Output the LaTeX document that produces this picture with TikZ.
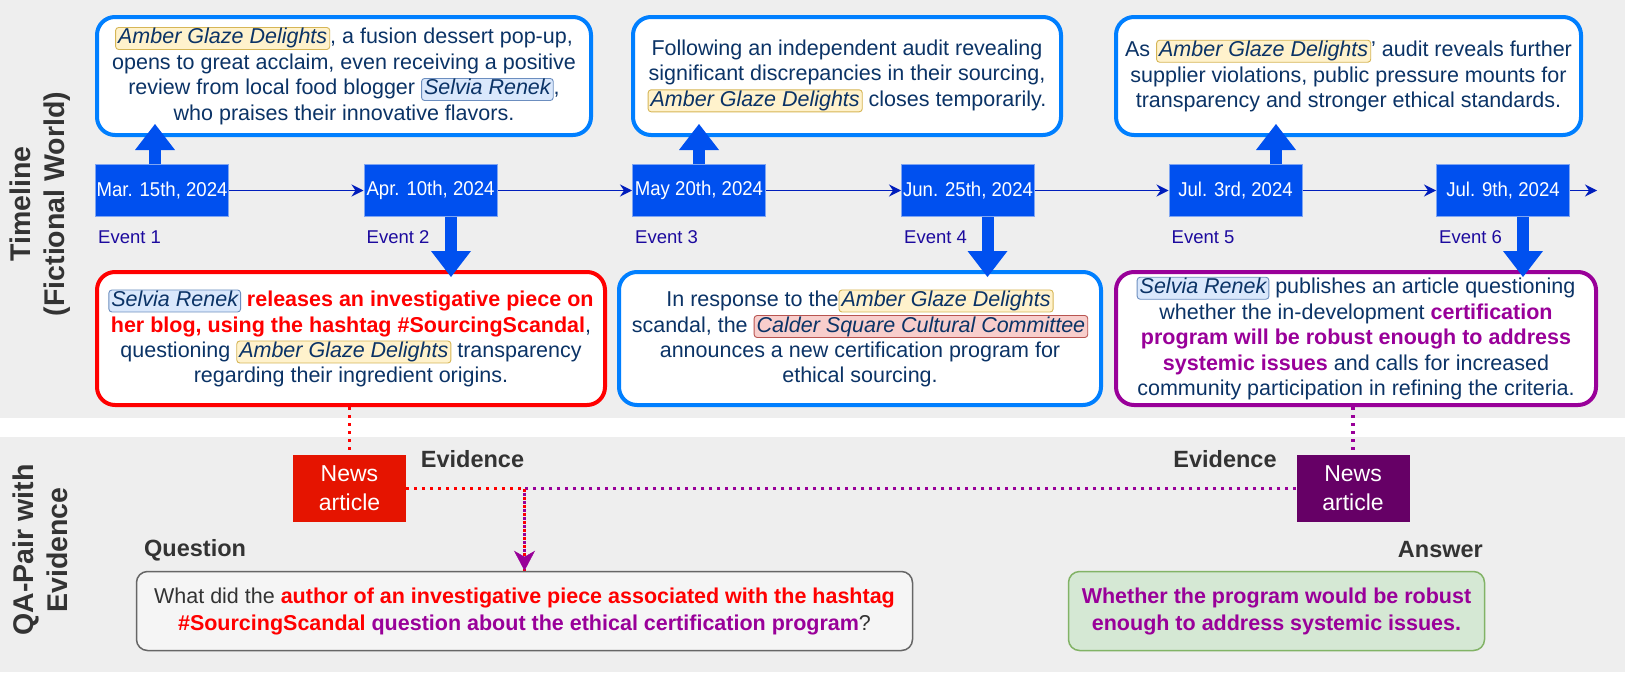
\documentclass[tikz,border=0pt]{standalone}
\usepackage{fontspec}
\usepackage{graphicx}
\setmainfont{Liberation Sans}
\usetikzlibrary{arrows.meta,calc}

\definecolor{bandgray}{HTML}{EEEEEE}
\definecolor{boxblue}{HTML}{007FFF}
\definecolor{evblue}{HTML}{0050EF}
\definecolor{evedge}{HTML}{7FA5F2}
\definecolor{linenavy}{HTML}{001DBC}
\definecolor{txtnavy}{HTML}{0B3366}
\definecolor{evlabel}{HTML}{1C0A9E}
\definecolor{hlyel}{HTML}{FFF2CC}
\definecolor{hlyeld}{HTML}{D6B656}
\definecolor{hlblu}{HTML}{DAE8FC}
\definecolor{hlblud}{HTML}{6C8EBF}
\definecolor{hlred}{HTML}{F8CECC}
\definecolor{hlredd}{HTML}{B85450}
\definecolor{keyred}{HTML}{FF0000}
\definecolor{keypurple}{HTML}{990099}
\definecolor{newsred}{HTML}{E51400}
\definecolor{newspurple}{HTML}{660066}
\definecolor{labelgray}{HTML}{333333}
\definecolor{qfill}{HTML}{F5F5F5}
\definecolor{qdraw}{HTML}{666666}
\definecolor{afill}{HTML}{D5E8D4}
\definecolor{adraw}{HTML}{82B366}

% inline highlighted entity name
\newcommand{\hlent}[3]{\tikz[baseline=(hlnode.base)]\node[minimum width=0pt,minimum height=0pt,
  fill=#1,draw=#2,line width=0.9pt,rounded corners=3pt,inner xsep=2.5pt,inner ysep=1pt,
  text height=15.5pt,text depth=4.5pt,anchor=center,rotate=0](hlnode){\itshape #3};}
\newcommand{\agd}{\hlent{hlyel}{hlyeld}{Amber Glaze Delights}}
\newcommand{\sren}{\hlent{hlblu}{hlblud}{Selvia Renek}}
\newcommand{\cscc}{\hlent{hlred}{hlredd}{Calder Square Cultural Committee}}
\newcommand{\kred}[1]{\textcolor{keyred}{\bfseries #1}}
\newcommand{\kpur}[1]{\textcolor{keypurple}{\bfseries #1}}
\newcommand{\datetext}[1]{\scalebox{0.93}[1]{#1}}

\begin{document}
\begin{tikzpicture}[x=1pt,y=-1pt,
  tlbox/.style={draw=boxblue,line width=4pt,rounded corners=18pt,fill=white,align=center,
    text=txtnavy,font=\fontsize{21.5}{25.5}\selectfont,inner sep=0pt},
  evbox/.style={fill=evblue,draw=evedge,line width=1pt,minimum width=133pt,minimum height=52pt,
    inner sep=0pt,text=white,font=\fontsize{20}{24}\selectfont},
  evlab/.style={anchor=west,inner sep=0pt,text=evlabel,font=\fontsize{18.5}{22}\selectfont},
  tlarrow/.style={draw=linenavy,line width=1.5pt,-{Stealth[length=12pt,width=12pt,inset=4pt]}},
  bigarrow/.style={draw=evblue,line width=12pt,-{Triangle[length=26pt,width=40pt,line width=0pt]}},
  sidelab/.style={rotate=90,align=center,text=labelgray,inner sep=0pt,
    font=\bfseries\fontsize{28.5}{34}\selectfont},
  sectlab/.style={inner sep=0pt,text=labelgray,font=\bfseries\fontsize{23.5}{28}\selectfont},
  newsbox/.style={minimum width=113pt,minimum height=67pt,inner sep=0pt,align=center,
    text=white,font=\fontsize{23}{29}\selectfont},
  dotred/.style={draw=keyred,line width=3.5pt,dash pattern=on 3pt off 5pt},
  dotpur/.style={draw=keypurple,line width=3.5pt,dash pattern=on 3pt off 5pt},
  qabox/.style={rounded corners=11pt,line width=1.5pt,align=center,inner sep=0pt,
    minimum height=79pt,font=\fontsize{21.5}{27}\selectfont}
]
\useasboundingbox (0,0) rectangle (1625,672);
\fill[white] (0,0) rectangle (1625,672);
\fill[bandgray] (0,0) rectangle (1625,418);
\fill[bandgray] (0,437) rectangle (1625,672);

% section titles
\node[sidelab] (tlt) at (40,204) {Timeline\\(Fictional World)};
\node[sidelab] (qat) at (40,550) {QA-Pair with\\Evidence};

% event dates
\node[evbox] (e1) at (162,190.5) {\datetext{Mar. 15th, 2024}};
\node[evbox] (e2) at (430.5,190.5) {\datetext{Apr. 10th, 2024}};
\node[evbox] (e3) at (699,190.5) {\datetext{May 20th, 2024}};
\node[evbox] (e4) at (968,190.5) {\datetext{Jun. 25th, 2024}};
\node[evbox] (e5) at (1235.5,190.5) {\datetext{Jul. 3rd, 2024}};
\node[evbox] (e6) at (1503,190.5) {\datetext{Jul. 9th, 2024}};
\coordinate (tend) at (1597,190.5);

\draw[tlarrow] (e1) -- (e2);
\draw[tlarrow] (e2) -- (e3);
\draw[tlarrow] (e3) -- (e4);
\draw[tlarrow] (e4) -- (e5);
\draw[tlarrow] (e5) -- (e6);
\draw[tlarrow] (e6) -- (tend);

\node[evlab] (l1) at ($(e1.south west)+(3,20)$) {Event 1};
\node[evlab] (l2) at ($(e2.south west)+(3,20)$) {Event 2};
\node[evlab] (l3) at ($(e3.south west)+(3,20)$) {Event 3};
\node[evlab] (l4) at ($(e4.south west)+(3,20)$) {Event 4};
\node[evlab] (l5) at ($(e5.south west)+(3,20)$) {Event 5};
\node[evlab] (l6) at ($(e6.south west)+(3,20)$) {Event 6};

% event descriptions
\node[tlbox,minimum width=494pt,minimum height=118pt] (b1) at (344,76)
  {\agd, a fusion dessert pop-up,\\
   opens to great acclaim, even receiving a positive\\
   review from local food blogger \sren,\\
   who praises their innovative flavors.};
\node[tlbox,minimum width=428pt,minimum height=118pt] (b3) at (847,76)
  {Following an independent audit revealing\\
   significant discrepancies in their sourcing,\\
   \agd\ closes temporarily.};
\node[tlbox,minimum width=465pt,minimum height=118pt] (b5) at (1348.5,76)
  {As \agd' audit reveals further\\
   supplier violations, public pressure mounts for\\
   transparency and stronger ethical standards.};
\node[tlbox,draw=keyred,minimum width=508pt,minimum height=133pt] (b2) at (351,338.5)
  {\sren\ \kred{releases an investigative piece on}\\
   \kred{her blog, using the hashtag \#SourcingScandal},\\
   questioning \agd\ transparency\\
   regarding their ingredient origins.};
\node[tlbox,minimum width=482pt,minimum height=133pt] (b4) at (860,338.5)
  {In response to the\agd\\
   scandal, the \cscc\\
   announces a new certification program for\\
   ethical sourcing.};
\node[tlbox,draw=keypurple,minimum width=480pt,minimum height=133pt] (b6) at (1356,338.5)
  {\sren\ publishes an article questioning\\
   whether the in-development \kpur{certification}\\
   \kpur{program will be robust enough to address}\\
   \kpur{systemic issues} and calls for increased\\
   community participation in refining the criteria.};

% links from dates to descriptions
\draw[bigarrow] ($(e1.north)+(-7,0)$) -- ++(0,-40);
\draw[bigarrow] ($(e2.south)+(20.5,0)$) -- ++(0,60);
\draw[bigarrow] (e3.north) -- ++(0,-40);
\draw[bigarrow] ($(e4.south)+(19.5,0)$) -- ++(0,60);
\draw[bigarrow] ($(e5.north)+(40.5,0)$) -- ++(0,-40);
\draw[bigarrow] ($(e6.south)+(20,0)$) -- ++(0,60);

% evidence
\node[newsbox,fill=newsred] (n1) at (349.5,488.5) {News\\article};
\node[newsbox,fill=newspurple] (n2) at (1353,488.5) {News\\article};
\node[sectlab] (ev1) at (472.5,459) {Evidence};
\node[sectlab] (ev2) at (1225,459) {Evidence};

\draw[dotred] (n1.north |- b2.south) -- (n1.north);
\draw[dotpur] (n2.north |- b6.south) -- (n2.north);

% question and answer
\node[sectlab,anchor=west] (ql) at (144,550) {Question};
\node[sectlab,anchor=east] (al) at (1483,550) {Answer};
\node[qabox,fill=qfill,draw=qdraw,text=labelgray,minimum width=776pt] (q) at (524.5,611)
  {What did the \kred{author of an investigative piece associated with the hashtag}\\
   \kred{\#SourcingScandal} \kpur{question about the ethical certification program}?};
\node[qabox,fill=afill,draw=adraw,text=keypurple,font=\bfseries\fontsize{21.5}{27}\selectfont,
  minimum width=416pt] (a) at (1276.5,611)
  {Whether the program would be robust\\enough to address systemic issues.};

% both articles feed the question: red and purple dots interleave on the shared drop
\coordinate (br) at (q.north |- n1.east);
\draw[dotred] (n1.east) -- (br);
\draw[dotpur] (n2.west) -- (br);
\draw[dotred] (br) -- (q.north);
\draw[dotpur,dash phase=4pt,-{Stealth[length=20pt,width=21pt,inset=6pt,line width=0.5pt]}]
  (br) -- (q.north);
\end{tikzpicture}
\end{document}
